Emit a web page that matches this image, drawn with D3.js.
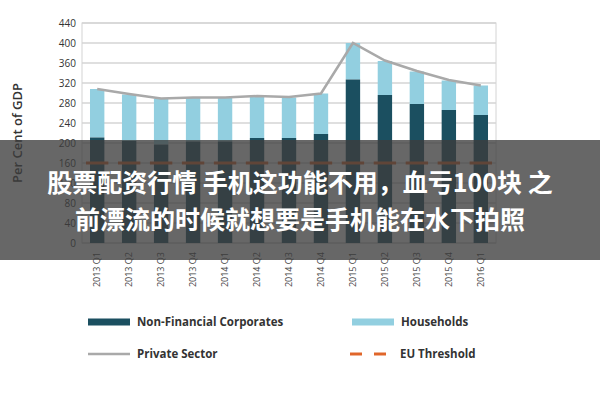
<!DOCTYPE html>
<html><head><meta charset="utf-8">
<script src="https://cdn.jsdelivr.net/npm/d3@7"></script>
<style>body{margin:0;background:#fff}text{font-family:"Open Sans",sans-serif}</style>
</head><body>
<svg id="chart" width="600" height="400"></svg>
<script>
var quarters = ["2013 Q1","2013 Q2","2013 Q3","2013 Q4","2014 Q1","2014 Q2","2014 Q3","2014 Q4","2015 Q1","2015 Q2","2015 Q3","2015 Q4","2016 Q1"];
var nonFinancial = [211, 204, 197, 203, 203, 210, 210, 218, 327, 296, 278, 266, 256];
var households = [97, 93, 92, 87, 87, 83, 81, 81, 73, 68, 65, 59, 59];
var privateSector = [308, 298, 289, 291, 291, 294, 292, 299, 400, 365, 344, 326, 315];
var euThreshold = 160;
var yTicks = [0, 40, 80, 120, 160, 200, 240, 280, 320, 360, 400, 440];

var svg = d3.select('#chart');
var x = d3.scaleBand().domain(quarters).range([82, 496]).paddingInner(0.55).paddingOuter(0.25);
var y = d3.scaleLinear().domain([0, 440]).range([243, 23]);

svg.selectAll('.grid').data(yTicks).enter().append('line')
	.attr('x1', 82).attr('x2', 496)
	.attr('y1', function(d) { return y(d) }).attr('y2', function(d) { return y(d) })
	.style('stroke', '#d4d4d4').style('stroke-width', 1.5);
svg.append('rect').attr('x', 82).attr('y', 23).attr('width', 414).attr('height', 220)
	.style('fill', 'none').style('stroke', '#d4d4d4');

svg.selectAll('.ylab').data(yTicks).enter().append('text')
	.attr('x', 76).attr('y', function(d) { return y(d) + 4 })
	.attr('text-anchor', 'end').style('font-size', '10px').style('fill', '#333')
	.text(function(d) { return d });
svg.append('text').attr('transform', 'translate(22,133) rotate(-90)')
	.attr('text-anchor', 'middle').style('font-size', '13px').style('font-weight', '600').style('fill', '#333')
	.text('Per Cent of GDP');

svg.selectAll('.hh').data(quarters).enter().append('rect')
	.attr('x', function(d) { return x(d) }).attr('width', x.bandwidth())
	.attr('y', function(d, i) { return y(nonFinancial[i] + households[i]) })
	.attr('height', function(d, i) { return y(nonFinancial[i]) - y(nonFinancial[i] + households[i]) })
	.style('fill', '#92cfe0');
svg.selectAll('.nfc').data(quarters).enter().append('rect')
	.attr('x', function(d) { return x(d) }).attr('width', x.bandwidth())
	.attr('y', function(d, i) { return y(nonFinancial[i]) })
	.attr('height', function(d, i) { return y(0) - y(nonFinancial[i]) })
	.style('fill', '#1b4f60');

svg.selectAll('.eu').data(quarters).enter().append('line')
	.attr('x1', function(d) { return x(d) - 4 }).attr('x2', function(d) { return x(d) + x.bandwidth() + 4 })
	.attr('y1', y(euThreshold)).attr('y2', y(euThreshold))
	.style('stroke', '#e0662a').style('stroke-width', 3);

var line = d3.line().x(function(d, i) { return x(quarters[i]) + x.bandwidth() / 2 }).y(function(d) { return y(d) });
svg.append('path').datum(privateSector).attr('d', line)
	.style('fill', 'none').style('stroke', '#a9a9a9').style('stroke-width', 2.5);

svg.selectAll('.xlab').data(quarters).enter().append('text')
	.attr('transform', function(d) { return 'translate(' + (x(d) + x.bandwidth() / 2 + 3) + ',252) rotate(-90)' })
	.attr('text-anchor', 'end').style('font-size', '9px').style('fill', '#444')
	.text(function(d) { return d });

var legend = [
	{name: 'Non-Financial Corporates', type: 'bar', color: '#1b4f60', x: 88, y: 322},
	{name: 'Households', type: 'bar', color: '#92cfe0', x: 352, y: 322},
	{name: 'Private Sector', type: 'line', color: '#a9a9a9', x: 88, y: 354},
	{name: 'EU Threshold', type: 'dash', color: '#e0662a', x: 352, y: 354}
];
legend.forEach(function(l) {
	if (l.type === 'dash') {
		svg.append('line').attr('x1', l.x - 2).attr('x2', l.x + 10).attr('y1', l.y).attr('y2', l.y)
			.style('stroke', l.color).style('stroke-width', 3);
		svg.append('line').attr('x1', l.x + 22).attr('x2', l.x + 34).attr('y1', l.y).attr('y2', l.y)
			.style('stroke', l.color).style('stroke-width', 3);
	} else {
		svg.append('line').attr('x1', l.x).attr('x2', l.x + 42).attr('y1', l.y).attr('y2', l.y)
			.style('stroke', l.color).style('stroke-width', l.type === 'bar' ? 7 : 2.5);
	}
	svg.append('text').attr('x', l.type === 'dash' ? l.x + 48 : l.x + 49).attr('y', l.y + 4)
		.style('font-size', '11.5px').style('font-weight', 'bold').style('fill', '#333').text(l.name);
});

svg.append('rect').attr('x', 0).attr('y', 140).attr('width', 600).attr('height', 120)
	.style('fill', 'rgba(60,60,60,0.78)');
var banner = ['股票配资行情 手机这功能不用，血亏100块 之', '前漂流的时候就想要是手机能在水下拍照'];
svg.selectAll('.banner').data(banner).enter().append('text')
	.attr('x', 300).attr('y', function(d, i) { return 192 + i * 37 })
	.attr('text-anchor', 'middle')
	.style('font-family', '"Noto Sans CJK SC", sans-serif').style('font-size', '25px')
	.style('font-weight', 'bold').style('fill', '#fff')
	.text(function(d) { return d });
</script>
</body></html>
